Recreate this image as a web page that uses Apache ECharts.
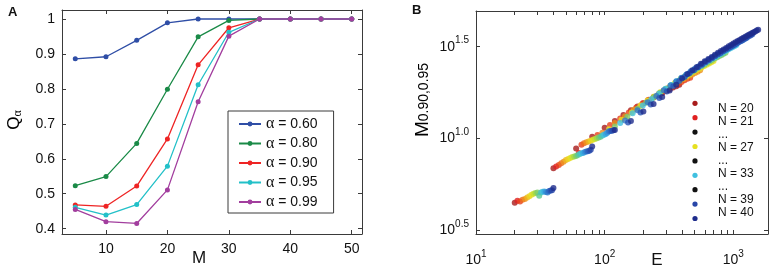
<!DOCTYPE html>
<html>
<head>
<meta charset="utf-8">
<script src="https://cdn.jsdelivr.net/npm/echarts@6/dist/echarts.min.js"></script>
<style>
  html, body { margin: 0; padding: 0; background: #fff; }
  #chart { width: 779px; height: 275px; }
</style>
</head>
<body>
<div id="chart"></div>
<script>
// ---- panel A : Q_alpha against M ----
const mValues = [5, 10, 15, 20, 25, 30, 35, 40, 45, 50];
const alphaNames = ['0.60', '0.80', '0.90', '0.95', '0.99'];
const q060 = [0.886, 0.892, 0.939, 0.989, 1, 1, 1, 1, 1, 1];
const q080 = [0.523, 0.549, 0.644, 0.799, 0.949, 0.996, 1, 1, 1, 1];
const q090 = [0.468, 0.464, 0.522, 0.657, 0.869, 0.975, 1, 1, 1, 1];
const q095 = [0.461, 0.439, 0.469, 0.579, 0.812, 0.962, 1, 1, 1, 1];
const q099 = [0.455, 0.420, 0.415, 0.511, 0.763, 0.951, 1, 1, 1, 1];
const xTicksA = [10, 20, 30, 40, 50];
const yTicksA = [0.4, 0.5, 0.6, 0.7, 0.8, 0.9, 1];

// ---- panel B : M_{0.90,0.95} against E (log-log) ----
const nValues = [20, 21, 22, 23, 24, 25, 26, 27, 28, 29, 30, 31, 32, 33, 34, 35, 36, 37, 38, 39, 40];
// M at E = N, E = 2N, E = 3N (one value per N)
const mAtN = [4.45, 4.55, 4.52, 4.62, 4.66, 4.75, 4.82, 4.92, 4.98, 5.02, 5.06, 4.85, 5.05, 5.10, 5.12, 5.08, 5.05, 5.15, 5.18, 5.20, 5.35];
const mAt2N = [6.86, 7.0, 7.15, 7.3, 7.45, 7.6, 7.7, 7.8, 7.9, 7.95, 8.0, 8.1, 8.2, 8.28, 8.3, 8.4, 8.45, 8.5, 8.55, 8.65, 9.0];
const mAt3N = [8.8, 8.3, 9.2, 9.4, 9.5, 9.6, 9.7, 9.8, 9.9, 10.0, 10.1, 10.2, 10.35, 10.45, 10.55, 10.7, 10.9, 10.95, 11.0, 11.05, 11.1];
// longer runs, E = 4N, 5N, ... (N-1)N
const runN20 = [10.2, 11.4, 12.4, 13.4, 14.2, 14.9, 15.5, 16.1, 16.7, 17.2, 17.6, 18.1, 18.5, 18.9, 19.2, 19.6];
const runN22 = [10.4, 11.8, 12.8, 13.8, 14.7, 15.5, 16.2, 16.8, 17.4, 18.0, 18.5, 19.0, 19.5, 19.9, 20.3, 20.7, 21.1, 21.4];
const runN24 = [10.7, 12.1, 13.2, 14.3, 15.2, 16.1, 16.8, 17.5, 18.2, 18.8, 19.4, 20.0, 20.5, 21.0, 21.4, 21.9, 22.3, 22.7, 23.1, 23.5];
const runN27 = [11.2, 12.6, 13.8, 15.0, 16.0, 16.9, 17.8, 18.5, 19.3, 20.0, 20.6, 21.2, 21.8, 22.3, 22.9, 23.4, 23.9, 24.3, 24.8, 25.2, 25.6, 26.0, 26.4];
const runN30 = [11.6, 13.1, 14.5, 15.6, 16.7, 17.7, 18.6, 19.5, 20.3, 21.1, 21.8, 22.4, 23.1, 23.7, 24.3, 24.8, 25.3, 25.8, 26.3, 26.8, 27.3, 27.7, 28.1, 28.5, 28.9, 29.3];
const runN33 = [12.1, 13.7, 15.1, 16.3, 17.5, 18.6, 19.5, 20.5, 21.3, 22.1, 22.9, 23.6, 24.3, 24.9, 25.6, 26.2, 26.8, 27.3, 27.8, 28.4, 28.8, 29.3, 29.8, 30.2, 30.7, 31.1, 31.5, 31.9, 32.3];
const runN36 = [12.5, 14.2, 15.7, 17.0, 18.3, 19.4, 20.4, 21.4, 22.3, 23.2, 24.0, 24.7, 25.5, 26.2, 26.8, 27.5, 28.1, 28.7, 29.2, 29.8, 30.3, 30.8, 31.3, 31.8, 32.3, 32.7, 33.2, 33.6, 34.0, 34.4, 34.8, 35.2];
const runN38 = [12.2, 13.8, 15.3, 16.6, 18.0, 19.2, 20.5, 21.6, 22.6, 23.5, 24.4, 25.2, 26.0, 26.7, 27.4, 28.1, 28.7, 29.3, 29.9, 30.5, 31.0, 31.5, 32.0, 32.5, 33.0, 33.5, 34.0, 34.4, 34.9, 35.3, 35.7, 36.1, 36.5, 36.9];
const runN40 = [12.4, 14.0, 15.4, 16.8, 18.2, 19.6, 21.2, 22.4, 23.5, 24.5, 25.5, 26.3, 27.1, 27.8, 28.6, 29.3, 29.9, 30.5, 31.1, 31.8, 32.3, 32.9, 33.4, 33.9, 34.4, 34.9, 35.4, 35.8, 36.3, 36.7, 37.1, 37.5, 37.9, 38.3, 38.7, 39.1];
const xTicksB = [10, 100, 1000];
const xMinorB = [20, 30, 40, 50, 60, 70, 80, 90, 200, 300, 400, 500, 600, 700, 800, 900];
const yTicksB = [Math.pow(10, 0.5), 10, Math.pow(10, 1.5)];
const legendLabelsB = ['N = 20', 'N = 21', '...', 'N = 27', '...', 'N = 33', '...', 'N = 39', 'N = 40'];
const legendNB = [20, 21, null, 27, null, 33, null, 39, 40];

// styles
const sans = 'Liberation Sans, Arial, Helvetica, sans-serif';
const serif = 'Liberation Serif, Times New Roman, serif';
const frame = '#3a3a3a';
const alphaColors = ['#2f4ea6', '#1a8a47', '#ee2424', '#22c0c8', '#a23e9e'];
// jet-like colour per N (20 -> dark red ... 40 -> dark blue)
const jetColors = ['#a81c1c', '#e02020', '#e8401c', '#ec6a1c', '#ee901c', '#eeb41c', '#ecd21e', '#e6e020',
  '#c8e030', '#a0d848', '#7ccc6c', '#5cc890', '#48c4b8', '#40c0e0', '#38a8e0', '#3490d8', '#3078cc',
  '#2c64c0', '#2852b4', '#2846a8', '#1e2c8c'];

const runByN = { 20: runN20, 22: runN22, 24: runN24, 27: runN27, 30: runN30, 33: runN33, 36: runN36, 38: runN38, 40: runN40 };
const qSeries = [q060, q080, q090, q095, q099];

function boxAxis(opts) {
  return Object.assign({
    axisLine: { show: true, onZero: false, lineStyle: { color: frame, width: 1 } },
    splitLine: { show: false },
    axisLabel: { show: false },
    axisTick: { inside: true, length: 4, lineStyle: { color: frame } }
  }, opts);
}

const supRich = {
  b: { fontSize: 14, fontFamily: sans, color: '#111', lineHeight: 14, verticalAlign: 'bottom' },
  s: { fontSize: 10, fontFamily: sans, color: '#111', lineHeight: 10, padding: [0, 0, 8, 0], verticalAlign: 'bottom' }
};

const seriesA = qSeries.map((q, i) => ({
  name: 'α = ' + alphaNames[i],
  type: 'line',
  xAxisIndex: 0,
  yAxisIndex: 0,
  data: mValues.map((m, j) => [m, q[j]]),
  symbol: 'circle',
  symbolSize: 5,
  color: alphaColors[i],
  lineStyle: { width: 1.3 },
  silent: true
}));

const seriesB = nValues.map((n, i) => {
  const pts = [[n, mAtN[i]], [2 * n, mAt2N[i]], [3 * n, mAt3N[i]]];
  (runByN[n] || []).forEach((m, j) => pts.push([(j + 4) * n, m]));
  return {
    type: 'scatter',
    xAxisIndex: 2,
    yAxisIndex: 2,
    data: pts,
    symbolSize: 6,
    itemStyle: { color: jetColors[i] },
    silent: true
  };
});

// legend of panel B (no box), drawn as plain graphics
const legendB = [];
legendLabelsB.forEach((label, i) => {
  const n = legendNB[i];
  legendB.push({
    type: 'circle', x: 695, y: 103.3 + i * 14.4,
    shape: { r: 2.6 },
    style: { fill: n === null ? '#111' : jetColors[nValues.indexOf(n)] }
  });
  legendB.push({
    type: 'text', x: 718, y: 108.3 + i * 13.1,
    style: { text: label, fontFamily: sans, fontSize: 12, fill: '#111', align: 'left', verticalAlign: 'middle' }
  });
});

const chart = echarts.init(document.getElementById('chart'), null, { renderer: 'canvas' });
chart.setOption({
  animation: false,
  backgroundColor: '#fff',
  grid: [
    { left: 62, top: 10, width: 300, height: 224 },
    { left: 476, top: 11, width: 292, height: 223 }
  ],
  legend: {
    data: seriesA.map(s => s.name),
    orient: 'vertical',
    left: 228,
    top: 111,
    padding: [5, 16, 3, 10],
    itemWidth: 22,
    itemHeight: 6,
    itemGap: 3.5,
    borderColor: frame,
    borderWidth: 1,
    backgroundColor: '#fff',
    selectedMode: false,
    formatter: name => '{g|α}' + name.slice(1),
    textStyle: {
      fontFamily: sans, fontSize: 14, color: '#111', lineHeight: 16,
      rich: { g: { fontFamily: serif, fontSize: 16, lineHeight: 16, color: '#111' } }
    }
  },
  xAxis: [
    boxAxis({
      type: 'value', gridIndex: 0, min: 2.84, max: 51.67,
      axisTick: { inside: true, length: 4, lineStyle: { color: frame }, customValues: xTicksA },
      axisLabel: { show: true, customValues: xTicksA, fontFamily: sans, fontSize: 14, color: '#111', margin: 8 }
    }),
    boxAxis({
      type: 'value', gridIndex: 0, position: 'top', min: 2.84, max: 51.67,
      axisTick: { inside: true, length: 4, lineStyle: { color: frame }, customValues: xTicksA }
    }),
    boxAxis({
      type: 'log', gridIndex: 1, min: 10, max: 1860,
      axisTick: { inside: true, length: 4, lineStyle: { color: frame }, customValues: xTicksB.concat(xMinorB) },
      axisLabel: {
        show: true, customValues: xTicksB, margin: 19,
        formatter: v => '{b|10}{s|' + Math.round(Math.log10(v)) + '}',
        rich: supRich
      }
    }),
    boxAxis({
      type: 'log', gridIndex: 1, position: 'top', min: 10, max: 1860,
      axisTick: { inside: true, length: 4, lineStyle: { color: frame }, customValues: xTicksB.concat(xMinorB) }
    })
  ],
  yAxis: [
    boxAxis({
      type: 'value', gridIndex: 0, min: 0.3848, max: 1.0258,
      axisTick: { inside: true, length: 4, lineStyle: { color: frame }, customValues: yTicksA },
      axisLabel: {
        show: true, customValues: yTicksA, fontFamily: sans, fontSize: 14, color: '#111', margin: 7,
        formatter: v => (Math.abs(v - 1) < 1e-9 ? '1' : v.toFixed(1))
      }
    }),
    boxAxis({
      type: 'value', gridIndex: 0, position: 'right', min: 0.3848, max: 1.0258,
      axisTick: { inside: true, length: 4, lineStyle: { color: frame }, customValues: yTicksA }
    }),
    boxAxis({
      type: 'log', gridIndex: 1, min: 3, max: 49.5,
      axisTick: { inside: true, length: 4, lineStyle: { color: frame }, customValues: yTicksB },
      axisLabel: {
        show: true, customValues: yTicksB, margin: 7,
        formatter: v => '{b|10}{s|' + (Math.round(Math.log10(v) * 2) / 2).toFixed(1) + '}',
        rich: supRich
      }
    }),
    boxAxis({
      type: 'log', gridIndex: 1, position: 'right', min: 3, max: 49.5,
      axisTick: { inside: true, length: 4, lineStyle: { color: frame }, customValues: yTicksB }
    })
  ],
  graphic: [
    { type: 'text', x: 8, y: 6, style: { text: 'A', fontFamily: sans, fontWeight: 'bold', fontSize: 13, fill: '#111' } },
    { type: 'text', x: 412, y: 4, style: { text: 'B', fontFamily: sans, fontWeight: 'bold', fontSize: 13, fill: '#111' } },
    { type: 'text', x: 199, y: 258, style: { text: 'M', fontFamily: sans, fontSize: 17, fill: '#111', align: 'center', verticalAlign: 'middle' } },
    { type: 'text', x: 657, y: 260, style: { text: 'E', fontFamily: sans, fontSize: 17, fill: '#111', align: 'center', verticalAlign: 'middle' } },
    {
      type: 'text', x: 15, y: 120, rotation: Math.PI / 2,
      style: {
        text: '{q|Q}{a|α}', align: 'center', verticalAlign: 'middle',
        rich: {
          q: { fontFamily: sans, fontSize: 17, lineHeight: 18, verticalAlign: 'top', color: '#111' },
          a: { fontFamily: serif, fontSize: 12, lineHeight: 8, verticalAlign: 'bottom', color: '#111' }
        }
      }
    },
    {
      type: 'text', x: 422, y: 100, rotation: Math.PI / 2,
      style: {
        text: '{m|M}{s|0.90,0.95}', align: 'center', verticalAlign: 'middle',
        rich: {
          m: { fontFamily: sans, fontSize: 19, lineHeight: 18, verticalAlign: 'top', color: '#111' },
          s: { fontFamily: sans, fontSize: 14, lineHeight: 8, verticalAlign: 'bottom', color: '#111' }
        }
      }
    }
  ].concat(legendB),
  series: seriesA.concat(seriesB)
});
</script>
</body>
</html>
